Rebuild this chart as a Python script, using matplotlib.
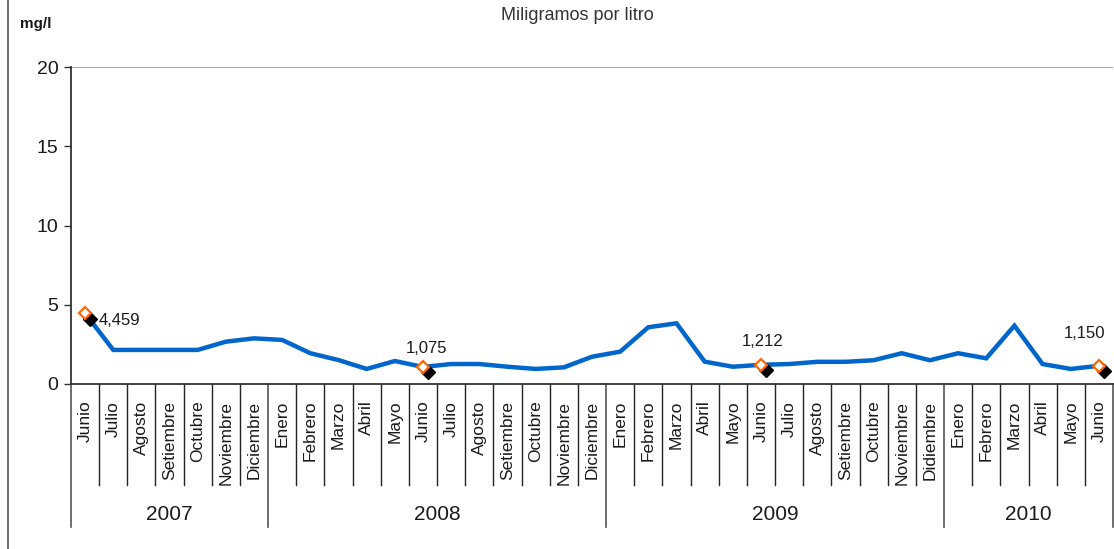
import matplotlib
matplotlib.use("Agg")
import matplotlib.pyplot as plt
from matplotlib import font_manager
from matplotlib.transforms import blended_transform_factory, offset_copy
from matplotlib.lines import Line2D

names = {f.name for f in font_manager.fontManager.ttflist}
FONT = "Liberation Sans Narrow" if "Liberation Sans Narrow" in names else "Liberation Sans"
plt.rcParams['font.family'] = [FONT, 'DejaVu Sans']

# ---------------- data ----------------
months = ["Junio", "Julio", "Agosto", "Setiembre", "Octubre", "Noviembre", "Diciembre",
          "Enero", "Febrero", "Marzo", "Abril", "Mayo", "Junio", "Julio", "Agosto",
          "Setiembre", "Octubre", "Noviembre", "Diciembre",
          "Enero", "Febrero", "Marzo", "Abril", "Mayo", "Junio", "Julio", "Agosto",
          "Setiembre", "Octubre", "Noviembre", "Didiembre",
          "Enero", "Febrero", "Marzo", "Abril", "Mayo", "Junio"]
values = [4.459, 2.15, 2.15, 2.15, 2.15, 2.67, 2.88,
          2.78, 1.94, 1.51, 0.95, 1.45, 1.075, 1.26, 1.26,
          1.09, 0.95, 1.05, 1.72,
          2.04, 3.58, 3.83, 1.41, 1.09, 1.212, 1.26, 1.40,
          1.40, 1.50, 1.94, 1.50,
          1.94, 1.62, 3.68, 1.26, 0.95, 1.150]
years = ["2007", "2008", "2009", "2010"]
year_counts = [7, 12, 12, 6]
labeled_idx = [0, 12, 24, 36]
label_texts = ["4,459", "1,075", "1,212", "1,150"]

# ---------------- figure ----------------
W, H = 1114, 549
fig = plt.figure(figsize=(W / 100, H / 100), dpi=100)
ax_left, ax_right, ax_top, ax_bot = 71, 1113, 67, 384
ax = fig.add_axes([ax_left / W, 1 - ax_bot / H, (ax_right - ax_left) / W, (ax_bot - ax_top) / H])

x = list(range(len(values)))
ax.plot(x, values, color="#0066CC", lw=3.2, solid_joinstyle="miter", zorder=3)

# markers: black shadow + orange hollow diamond
shadow_tr = offset_copy(ax.transData, fig=fig, x=5, y=-5.5, units="dots")
mx = [x[i] for i in labeled_idx]
my = [values[i] for i in labeled_idx]
ax.plot(mx, my, ls="none", marker="D", ms=7, color="black", transform=shadow_tr, zorder=4, clip_on=False)
ax.plot(mx, my, ls="none", marker="D", ms=6.5, mfc="white", mec="#FF6600", mew=1.6, zorder=5, clip_on=False)

offsets = [(14, -7, "left"), (3, 18, "center"), (2, 23, "center"), (-14, 32, "center")]
for i, t, (dx, dy, ha) in zip(labeled_idx, label_texts, offsets):
    ax.annotate(t, (x[i], values[i]), xytext=(dx / 1.389, dy / 1.389), textcoords="offset points",
                ha=ha, va="center", fontsize=12, color="#1a1a1a", zorder=6)

ax.set_xlim(-0.5, len(values) - 0.5)
ax.set_ylim(0, 20)
ax.set_yticks([0, 5, 10, 15, 20])
ax.tick_params(axis="y", length=5, width=1, color="#333333", labelsize=14, pad=4, labelcolor="#1a1a1a")
ax.set_xticks(x)
ax.set_xticklabels(months, rotation=90, fontsize=12.5, va="top", ha="center", color="#1a1a1a")
ax.tick_params(axis="x", length=0, pad=12)

for s in ["top", "right"]:
    ax.spines[s].set_visible(False)
ax.spines["left"].set_color("#333333")
ax.spines["left"].set_linewidth(1.3)
ax.spines["bottom"].set_color("#333333")
ax.spines["bottom"].set_linewidth(1.3)
ax.axhline(20, color="#999999", lw=1.2, zorder=1)

# category separators
tr = blended_transform_factory(ax.transData, ax.transAxes)
h = ax_bot - ax_top
month_end = -(485 - ax_bot) / h
year_end = -(527 - ax_bot) / h
year_bounds = [0]
for c in year_counts:
    year_bounds.append(year_bounds[-1] + c)
for k in range(len(values) + 1):
    b = k - 0.5
    if k in year_bounds:
        ax.plot([b, b], [0, year_end], color="#555555", lw=1.2, transform=tr, clip_on=False)
    else:
        ax.plot([b, b], [0, month_end], color="#222222", lw=1.0, transform=tr, clip_on=False)
for yl, a, b in zip(years, year_bounds[:-1], year_bounds[1:]):
    ax.text((a + b - 1) / 2, -(515 - ax_bot) / h, yl, transform=tr, ha="center", va="center",
            fontsize=15, color="#1a1a1a")

# texts
fig.text(577 / W, 1 - 15 / H, "Miligramos por litro", ha="center", va="center", fontsize=13, color="#333333")
fig.text(20 / W, 1 - 24 / H, "mg/l", ha="left", va="center", fontsize=11, fontweight="bold", color="#1a1a1a")

# chart border lines
fig.add_artist(Line2D([8 / W, 8 / W], [0, 1], color="#555555", lw=1.2, transform=fig.transFigure))

fig.savefig("out.png", dpi=100)
